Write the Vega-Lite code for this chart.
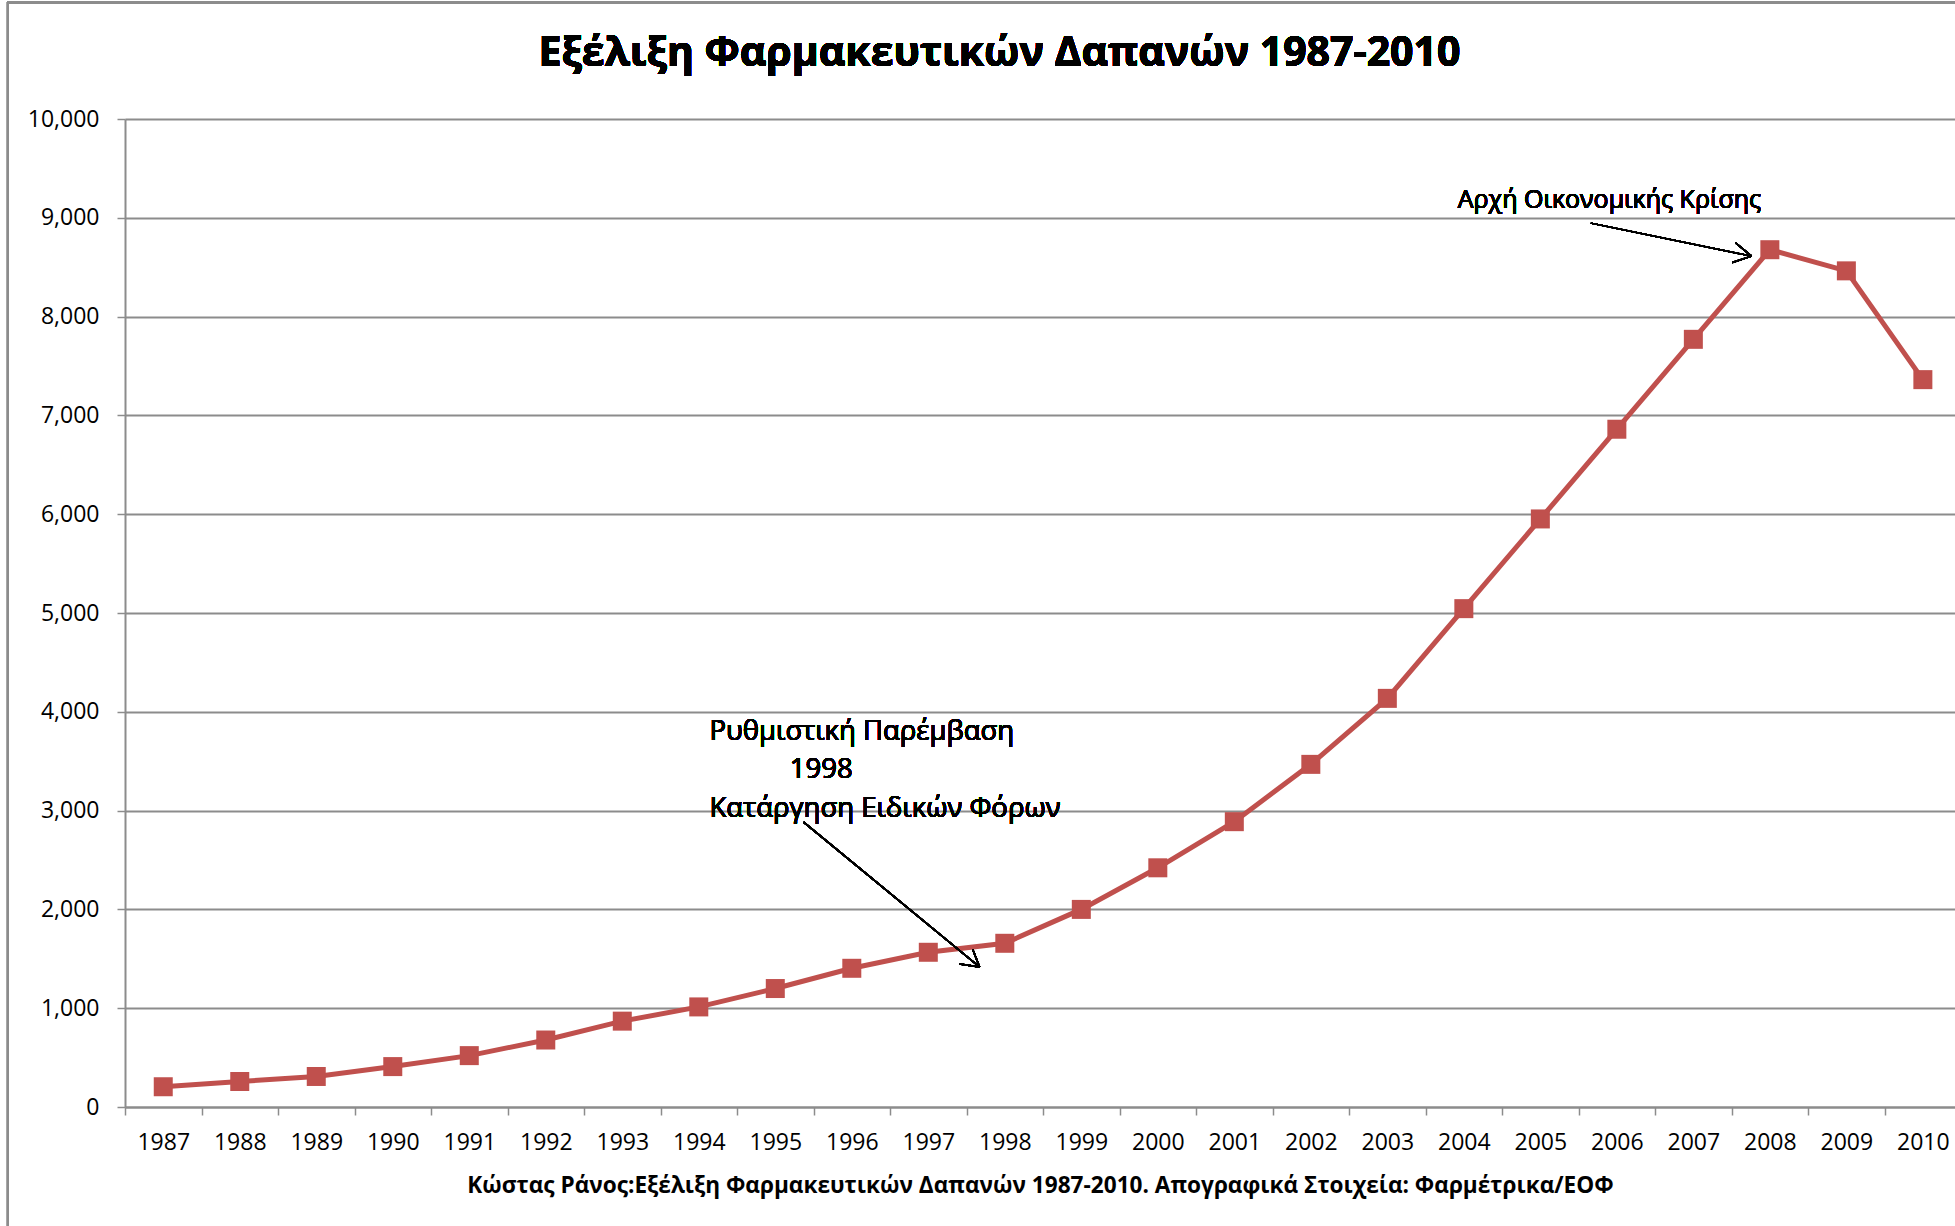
{
  "$schema": "https://vega.github.io/schema/vega-lite/v6.json",
  "width": 1830,
  "height": 988,
  "autosize": {"type": "none"},
  "padding": {"left": 125, "top": 119, "right": 0, "bottom": 119},
  "background": "white",
  "config": {"view": {"stroke": null}, "font": "Open Sans"},
  "data": {
    "values": [
      {"year": 1987, "value": 205},
      {"year": 1988, "value": 258},
      {"year": 1989, "value": 309},
      {"year": 1990, "value": 409},
      {"year": 1991, "value": 520},
      {"year": 1992, "value": 678},
      {"year": 1993, "value": 869},
      {"year": 1994, "value": 1013},
      {"year": 1995, "value": 1199},
      {"year": 1996, "value": 1404},
      {"year": 1997, "value": 1566},
      {"year": 1998, "value": 1657},
      {"year": 1999, "value": 2000},
      {"year": 2000, "value": 2421},
      {"year": 2001, "value": 2888},
      {"year": 2002, "value": 3468},
      {"year": 2003, "value": 4136},
      {"year": 2004, "value": 5044},
      {"year": 2005, "value": 5952},
      {"year": 2006, "value": 6860},
      {"year": 2007, "value": 7770},
      {"year": 2008, "value": 8677},
      {"year": 2009, "value": 8463},
      {"year": 2010, "value": 7362}
    ]
  },
  "resolve": {"axis": {"x": "independent", "y": "independent"}},
  "layer": [
    {
      "mark": {"type": "line", "color": "#C0504D", "strokeWidth": 5},
      "encoding": {
        "x": {
          "field": "year",
          "type": "quantitative",
          "scale": {"domain": [1986.5, 2010.42], "nice": false, "zero": false},
          "axis": {
            "orient": "bottom",
            "values": [1986.5, 1987.5, 1988.5, 1989.5, 1990.5, 1991.5, 1992.5, 1993.5, 1994.5, 1995.5, 1996.5, 1997.5, 1998.5, 1999.5, 2000.5, 2001.5, 2002.5, 2003.5, 2004.5, 2005.5, 2006.5, 2007.5, 2008.5, 2009.5],
            "labels": false,
            "tickSize": 8,
            "tickColor": "#8c8c8c",
            "tickWidth": 1.5,
            "domainColor": "#8c8c8c",
            "domainWidth": 2,
            "grid": false,
            "title": null
          }
        },
        "y": {
          "field": "value",
          "type": "quantitative",
          "scale": {"domain": [0, 10000], "nice": false},
          "axis": {
            "orient": "left",
            "values": [0, 1000, 2000, 3000, 4000, 5000, 6000, 7000, 8000, 9000, 10000],
            "labels": false,
            "ticks": false,
            "domain": false,
            "grid": true,
            "gridColor": "#8c8c8c",
            "gridWidth": 1.8,
            "title": null
          }
        }
      }
    },
    {
      "mark": {"type": "square", "color": "#C0504D", "size": 361, "opacity": 1},
      "encoding": {
        "x": {
          "field": "year",
          "type": "quantitative",
          "scale": {"domain": [1986.5, 2010.42], "nice": false, "zero": false},
          "axis": {
            "orient": "bottom",
            "values": [1987, 1988, 1989, 1990, 1991, 1992, 1993, 1994, 1995, 1996, 1997, 1998, 1999, 2000, 2001, 2002, 2003, 2004, 2005, 2006, 2007, 2008, 2009, 2010],
            "format": "d",
            "ticks": false,
            "tickSize": 0,
            "domain": false,
            "grid": false,
            "labelOverlap": false,
            "labelBound": false,
            "labelFlush": false,
            "labelFont": "Open Sans",
            "labelFontSize": 23,
            "labelColor": "black",
            "labelPadding": 24,
            "title": "Κώστας Ράνος:Εξέλιξη Φαρμακευτικών Δαπανών 1987-2010. Απογραφικά Στοιχεία: Φαρμέτρικα/ΕΟΦ",
            "titleFont": "Open Sans",
            "titleFontSize": 22.6,
            "titleFontWeight": "bold",
            "titleColor": "black",
            "titlePadding": 20
          }
        },
        "y": {
          "field": "value",
          "type": "quantitative",
          "scale": {"domain": [0, 10000], "nice": false},
          "axis": {
            "orient": "left",
            "values": [0, 1000, 2000, 3000, 4000, 5000, 6000, 7000, 8000, 9000, 10000],
            "format": ",d",
            "grid": false,
            "labelOverlap": false,
            "labelBound": false,
            "labelFlush": false,
            "labelFont": "Open Sans",
            "labelFontSize": 23,
            "labelColor": "black",
            "labelPadding": 18,
            "tickSize": 8,
            "tickColor": "#8c8c8c",
            "tickWidth": 1.5,
            "domainColor": "#8c8c8c",
            "domainWidth": 2,
            "title": null
          }
        }
      }
    },
    {
      "mark": {"type": "text", "align": "center", "baseline": "alphabetic", "fontSize": 41, "fontWeight": "bold", "font": "Open Sans", "color": "black", "text": "Εξέλιξη Φαρμακευτικών Δαπανών 1987-2010"},
      "encoding": {
        "x": {"datum": 1997.93, "type": "quantitative", "scale": {"domain": [1986.5, 2010.42], "nice": false, "zero": false}, "axis": null},
        "y": {"datum": 10535, "type": "quantitative", "scale": {"domain": [0, 10000], "nice": false}, "axis": null}
      }
    },
    {
      "mark": {"type": "text", "align": "left", "baseline": "alphabetic", "fontSize": 25, "font": "Open Sans", "color": "black", "text": "Αρχή Οικονομικής Κρίσης"},
      "encoding": {
        "x": {"datum": 2003.92, "type": "quantitative", "scale": {"domain": [1986.5, 2010.42], "nice": false, "zero": false}, "axis": null},
        "y": {"datum": 9098, "type": "quantitative", "scale": {"domain": [0, 10000], "nice": false}, "axis": null}
      }
    },
    {
      "mark": {"type": "text", "align": "left", "baseline": "alphabetic", "fontSize": 27.5, "font": "Open Sans", "color": "black", "text": "Ρυθμιστική Παρέμβαση"},
      "encoding": {
        "x": {"datum": 1994.14, "type": "quantitative", "scale": {"domain": [1986.5, 2010.42], "nice": false, "zero": false}, "axis": null},
        "y": {"datum": 3714, "type": "quantitative", "scale": {"domain": [0, 10000], "nice": false}, "axis": null}
      }
    },
    {
      "mark": {"type": "text", "align": "left", "baseline": "alphabetic", "fontSize": 27.5, "font": "Open Sans", "color": "black", "text": "1998"},
      "encoding": {
        "x": {"datum": 1995.19, "type": "quantitative", "scale": {"domain": [1986.5, 2010.42], "nice": false, "zero": false}, "axis": null},
        "y": {"datum": 3330, "type": "quantitative", "scale": {"domain": [0, 10000], "nice": false}, "axis": null}
      }
    },
    {
      "mark": {"type": "text", "align": "left", "baseline": "alphabetic", "fontSize": 27.5, "font": "Open Sans", "color": "black", "text": "Κατάργηση Ειδικών Φόρων"},
      "encoding": {
        "x": {"datum": 1994.14, "type": "quantitative", "scale": {"domain": [1986.5, 2010.42], "nice": false, "zero": false}, "axis": null},
        "y": {"datum": 2935, "type": "quantitative", "scale": {"domain": [0, 10000], "nice": false}, "axis": null}
      }
    },
    {
      "mark": {"type": "rule", "color": "black", "strokeWidth": 1.5},
      "encoding": {
        "x": {"datum": 1995.37, "type": "quantitative", "scale": {"domain": [1986.5, 2010.42], "nice": false, "zero": false}, "axis": null},
        "y": {"datum": 2884, "type": "quantitative", "scale": {"domain": [0, 10000], "nice": false}, "axis": null},
        "x2": {"datum": 1997.67},
        "y2": {"datum": 1417}
      }
    },
    {
      "mark": {"type": "rule", "color": "black", "strokeWidth": 1.5},
      "encoding": {
        "x": {"datum": 1997.41, "type": "quantitative", "scale": {"domain": [1986.5, 2010.42], "nice": false, "zero": false}, "axis": null},
        "y": {"datum": 1447, "type": "quantitative", "scale": {"domain": [0, 10000], "nice": false}, "axis": null},
        "x2": {"datum": 1997.67},
        "y2": {"datum": 1417}
      }
    },
    {
      "mark": {"type": "rule", "color": "black", "strokeWidth": 1.5},
      "encoding": {
        "x": {"datum": 1997.58, "type": "quantitative", "scale": {"domain": [1986.5, 2010.42], "nice": false, "zero": false}, "axis": null},
        "y": {"datum": 1596, "type": "quantitative", "scale": {"domain": [0, 10000], "nice": false}, "axis": null},
        "x2": {"datum": 1997.67},
        "y2": {"datum": 1417}
      }
    },
    {
      "mark": {"type": "rule", "color": "black", "strokeWidth": 1.5},
      "encoding": {
        "x": {"datum": 2005.66, "type": "quantitative", "scale": {"domain": [1986.5, 2010.42], "nice": false, "zero": false}, "axis": null},
        "y": {"datum": 8946, "type": "quantitative", "scale": {"domain": [0, 10000], "nice": false}, "axis": null},
        "x2": {"datum": 2007.76},
        "y2": {"datum": 8612}
      }
    },
    {
      "mark": {"type": "rule", "color": "black", "strokeWidth": 1.5},
      "encoding": {
        "x": {"datum": 2007.55, "type": "quantitative", "scale": {"domain": [1986.5, 2010.42], "nice": false, "zero": false}, "axis": null},
        "y": {"datum": 8747, "type": "quantitative", "scale": {"domain": [0, 10000], "nice": false}, "axis": null},
        "x2": {"datum": 2007.76},
        "y2": {"datum": 8612}
      }
    },
    {
      "mark": {"type": "rule", "color": "black", "strokeWidth": 1.5},
      "encoding": {
        "x": {"datum": 2007.51, "type": "quantitative", "scale": {"domain": [1986.5, 2010.42], "nice": false, "zero": false}, "axis": null},
        "y": {"datum": 8548, "type": "quantitative", "scale": {"domain": [0, 10000], "nice": false}, "axis": null},
        "x2": {"datum": 2007.76},
        "y2": {"datum": 8612}
      }
    },
    {
      "mark": {"type": "rule", "color": "#8c8c8c", "strokeWidth": 2},
      "encoding": {
        "x": {"datum": 1984.97, "type": "quantitative", "scale": {"domain": [1986.5, 2010.42], "nice": false, "zero": false}, "axis": null},
        "y": {"datum": 11190, "type": "quantitative", "scale": {"domain": [0, 10000], "nice": false}, "axis": null},
        "y2": {"datum": -1400}
      }
    },
    {
      "mark": {"type": "rule", "color": "#8c8c8c", "strokeWidth": 2},
      "encoding": {
        "x": {"datum": 1984.97, "type": "quantitative", "scale": {"domain": [1986.5, 2010.42], "nice": false, "zero": false}, "axis": null},
        "x2": {"datum": 2011},
        "y": {"datum": 11180, "type": "quantitative", "scale": {"domain": [0, 10000], "nice": false}, "axis": null}
      }
    }
  ]
}
